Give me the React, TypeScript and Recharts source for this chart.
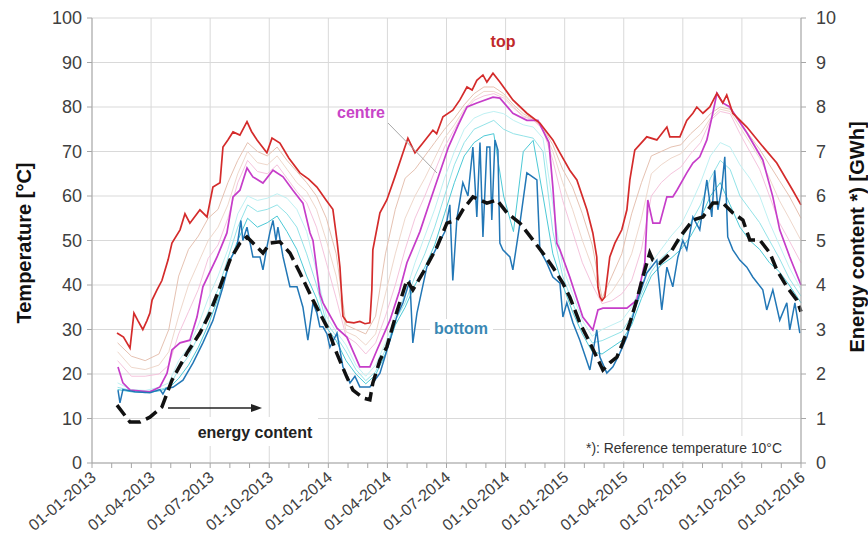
import React from "react";
import { LineChart, Line, XAxis, YAxis, CartesianGrid } from "recharts";

const FONT = "'Liberation Sans', Arial, sans-serif";

// x unit: months since 01-01-2013
const quarterTicks = [0, 3, 6, 9, 12, 15, 18, 21, 24, 27, 30, 33, 36];
const quarterLabels = [
  "01-01-2013", "01-04-2013", "01-07-2013", "01-10-2013",
  "01-01-2014", "01-04-2014", "01-07-2014", "01-10-2014",
  "01-01-2015", "01-04-2015", "01-07-2015", "01-10-2015",
  "01-01-2016",
];
const monthTicks = Array.from({ length: 37 }, (_, i) => i);
const tempTicks = [0, 10, 20, 30, 40, 50, 60, 70, 80, 90, 100];
const energyTicks = [0, 1, 2, 3, 4, 5, 6, 7, 8, 9, 10];

// [month, °C]
const topT: [number, number][] = [
  [1.27, 29.2], [1.6, 28.3], [1.93, 25.8], [2.13, 33.7], [2.33, 32], [2.58, 30], [2.79, 32],
  [2.94, 33.7], [3.05, 36.6], [3.3, 38.9], [3.55, 41], [3.86, 45.6], [4.06, 49.4], [4.47, 52.4],
  [4.72, 56], [4.97, 53.9], [5.33, 56], [5.48, 56.9], [5.84, 55.3], [6.14, 62], [6.5, 63],
  [6.65, 71], [6.9, 72.6], [7.16, 74.4], [7.51, 73.7], [7.87, 76.7], [8.1, 74.5], [8.38, 72.6],
  [8.88, 69.7], [9.14, 73], [9.54, 71.9], [10.0, 68.5], [10.56, 65.2], [11.0, 63.8], [11.42, 62],
  [11.9, 59], [12.23, 57], [12.44, 50], [12.59, 44], [12.74, 33], [12.94, 31.7], [13.3, 31.5],
  [13.6, 31.8], [13.86, 31.3], [14.11, 31.5], [14.21, 39], [14.26, 47.9], [14.62, 56.2],
  [14.97, 59.1], [15.38, 64.3], [15.79, 69.7], [16.04, 73], [16.4, 69.7], [16.8, 71.9],
  [17.31, 74.8], [17.5, 74], [17.82, 77.8], [18.32, 79.3], [18.68, 81.6], [19.04, 84.5],
  [19.3, 83.8], [19.54, 86], [19.85, 87.2], [20.05, 85.6], [20.36, 87.6], [20.71, 85.6],
  [21.37, 81.6], [22.08, 78.6], [22.74, 76.4], [23.4, 72.6], [23.76, 69.7], [24.26, 65.8],
  [24.62, 63.6], [25.13, 56.9], [25.43, 51.7], [25.63, 46.3], [25.69, 39.5], [25.79, 37.3],
  [25.9, 36.5], [26.04, 37.3], [26.29, 46.3], [26.55, 49.4], [26.9, 52.4], [27.16, 56.9],
  [27.31, 63.6], [27.56, 70.3], [28.17, 73.3], [28.68, 72.6], [29.19, 75.5], [29.34, 73.3],
  [29.85, 73.3], [30.2, 77], [30.51, 78.6], [30.71, 80], [31.02, 78.6], [31.37, 80],
  [31.73, 83.1], [32.03, 80.9], [32.23, 82.7], [32.54, 78.6], [33.25, 75.5], [33.91, 71.9],
  [34.77, 67.4], [35.58, 61.3], [36, 58],
];

const centreT: [number, number][] = [
  [1.32, 21.6], [1.57, 18], [1.93, 16.4], [2.94, 16], [3.45, 17.1], [3.81, 20.2], [4.06, 25.4],
  [4.47, 27], [4.97, 27.6], [5.33, 32.8], [5.63, 39.6], [6.35, 46.3], [6.85, 51.7], [7.16, 59.8],
  [7.51, 61.3], [7.87, 66.3], [8.17, 64.3], [8.68, 62.9], [9.19, 65.8], [9.7, 64.3], [10.2, 61.3],
  [10.71, 58.4], [11.07, 51.7], [11.22, 50], [11.57, 38], [11.73, 36], [12.44, 30.3],
  [12.94, 28.3], [13.6, 21.6], [14.11, 21.6], [14.47, 25.4], [15.13, 32.1], [15.6, 38.5],
  [15.99, 45], [16.65, 52], [17.1, 58], [17.6, 64.5], [18.1, 71], [18.6, 76], [19.04, 80],
  [19.54, 80.9], [20.36, 82.2], [20.71, 82], [21.37, 78.6], [22.08, 77], [22.64, 77], [23.2, 72],
  [23.4, 62], [23.6, 49.4], [23.76, 47.9], [24.26, 41.8], [24.92, 32.8], [25.43, 29.9],
  [25.69, 34.4], [25.94, 34.8], [27.16, 34.8], [27.66, 36.6], [28.07, 45], [28.22, 59.1],
  [28.48, 53.9], [28.83, 53.9], [29.19, 59.8], [29.49, 59.8], [29.7, 61.3], [30.2, 65.2],
  [30.51, 67.4], [30.86, 68.8], [31.22, 72.6], [31.52, 78.6], [31.73, 83.1], [32.03, 80.9],
  [32.38, 80], [33.25, 74.2], [34.06, 68.1], [34.57, 59.8], [34.92, 52.4], [35.43, 46.3], [36, 40],
];

const bottomT: [number, number][] = [
  [1.32, 16.4], [1.42, 13.5], [1.57, 16.5], [2.18, 16], [2.94, 15.8], [3.45, 16.5], [3.6, 15.5],
  [3.76, 16.8], [4.11, 17], [4.62, 18.6], [5.13, 22.5], [5.63, 27], [6.14, 32], [6.65, 39.6],
  [7.0, 45.6], [7.36, 48.5], [7.56, 54.5], [7.66, 50], [7.87, 53], [8.17, 46.3], [8.53, 46.3],
  [8.68, 43.4], [8.88, 48.5], [9.04, 52], [9.19, 54.5], [9.34, 50], [9.44, 53], [9.7, 46.3],
  [10.05, 39.6], [10.41, 39.6], [10.71, 35], [10.96, 27.6], [11.22, 36], [11.42, 33.7],
  [11.57, 30.6], [11.73, 30.6], [11.93, 29], [12.08, 26], [12.44, 29.2], [12.74, 21.6],
  [13.1, 18], [13.35, 19.5], [13.6, 17.1], [14.11, 17.1], [14.62, 20.2], [15.13, 27.6],
  [15.48, 33], [15.79, 36], [16.14, 41.1], [16.29, 27], [16.5, 33.7], [17.0, 44], [17.51, 48.5],
  [17.92, 52], [18.17, 58], [18.32, 41], [18.53, 55], [18.83, 63], [19.09, 60], [19.34, 71],
  [19.54, 55.3], [19.7, 72], [19.85, 50.8], [20.05, 71], [20.2, 71], [20.3, 54.6], [20.46, 72.6],
  [20.61, 70.3], [20.71, 49.4], [20.86, 47.9], [21.22, 46.3], [21.37, 43.4], [21.73, 53.9],
  [22.08, 65.2], [22.59, 63.6], [22.74, 47.9], [23.1, 44.9], [23.4, 41.8], [23.76, 40.4],
  [23.91, 32.8], [24.11, 36], [24.42, 31.5], [24.77, 27.6], [25.28, 20.9], [25.63, 29.9],
  [25.79, 23.8], [26.14, 20.2], [26.45, 21.6], [26.8, 24.7], [27.16, 28.3], [27.66, 36],
  [28.17, 42.7], [28.68, 45.6], [28.93, 34.4], [29.19, 44], [29.49, 39.6], [29.75, 46.3],
  [30.0, 50], [30.2, 47.9], [30.51, 55.3], [30.86, 52.4], [31.22, 63.6], [31.47, 55.3],
  [31.62, 65.8], [31.78, 56.9], [31.98, 62], [32.13, 68.8], [32.28, 50.8], [32.54, 47.9],
  [32.89, 45.6], [33.25, 44], [33.55, 41.8], [34.06, 38.9], [34.26, 34.4], [34.57, 38.9],
  [34.92, 32.1], [35.28, 36], [35.43, 29.9], [35.69, 36], [35.94, 29.2],
];

// [month, GWh]
const energyGWh: [number, number][] = [
  [1.27, 1.3], [1.93, 0.92], [2.44, 0.92], [2.94, 1.03], [3.55, 1.26], [4.06, 1.86], [4.82, 2.47],
  [5.48, 2.92], [5.99, 3.37], [6.5, 3.96], [7.0, 4.56], [7.51, 4.94], [7.87, 5.08], [8.38, 4.85],
  [8.68, 4.72], [9.04, 4.94], [9.54, 4.97], [10.05, 4.72], [10.56, 4.27], [11.22, 3.66],
  [11.93, 3.06], [12.44, 2.45], [12.94, 1.93], [13.25, 1.64], [13.76, 1.46], [14.11, 1.42],
  [14.26, 1.8], [14.62, 2.31], [14.97, 2.61], [15.48, 3.4], [15.99, 4.11], [16.29, 3.89],
  [16.8, 4.27], [17.51, 4.85], [18.02, 5.39], [18.53, 5.46], [18.83, 5.69], [19.34, 5.98],
  [19.7, 5.91], [20.05, 5.84], [20.56, 5.91], [21.07, 5.62], [21.73, 5.39], [22.39, 5.01],
  [22.89, 4.72], [23.4, 4.4], [23.91, 4.04], [24.26, 3.73], [24.77, 3.15], [25.28, 2.7],
  [25.63, 2.38], [25.94, 2.09], [26.29, 2.25], [26.65, 2.38], [26.95, 2.7], [27.31, 3.15],
  [27.66, 3.66], [27.97, 4.18], [28.32, 4.72], [28.48, 4.56], [28.83, 4.49], [29.34, 4.7],
  [29.85, 5.08], [30.51, 5.46], [31.02, 5.53], [31.52, 5.84], [32.03, 5.84], [32.54, 5.62],
  [33.05, 5.46], [33.4, 5.01], [33.91, 5.01], [34.42, 4.72], [34.77, 4.34], [35.28, 3.96],
  [35.79, 3.66], [36, 3.4],
];

// intermediate sensor layers, read on a coarse month grid
const layerMonths = [
  1.3, 2, 2.7, 3.4, 3.9, 4.4, 4.9, 5.4, 5.9, 6.4, 6.9, 7.4, 7.9, 8.4, 8.9, 9.4, 9.9, 10.4, 10.9,
  11.4, 11.9, 12.4, 12.9, 13.4, 13.9, 14.4, 14.9, 15.4, 15.9, 16.4, 16.9, 17.4, 17.9, 18.4, 18.9,
  19.4, 19.9, 20.4, 20.9, 21.4, 21.9, 22.4, 22.9, 23.4, 23.9, 24.4, 24.9, 25.4, 25.9, 26.4, 26.9,
  27.4, 27.9, 28.4, 28.9, 29.4, 29.9, 30.4, 30.9, 31.4, 31.9, 32.4, 32.9, 33.4, 33.9, 34.4, 34.9,
  35.4, 36,
];
const upper1 = [
  27, 24, 23, 24.5, 30, 42, 48, 51, 55, 57, 63, 68, 72, 70, 69, 71, 68, 65.5, 63, 60,
  55, 47, 31, 30, 29, 33, 47, 57, 64, 66, 69, 72, 75, 77.5, 80.5, 83, 84.5, 84.5, 83, 80.5,
  78.5, 77.3, 75.3, 71.5, 66, 62, 56, 49, 37, 42, 47, 56, 63, 69, 70, 71, 71.5, 74, 76, 78.5,
  80, 79.5, 76.5, 73.5, 70.5, 67, 63.5, 60, 55,
];
const upper2 = [
  25, 21.5, 21, 22, 25, 33, 40, 45, 50, 53, 58, 65, 70, 67.5, 67, 69, 66, 63, 61, 57,
  50, 42, 29.5, 28.5, 26.5, 29, 38, 47, 55, 60, 64, 68.5, 73, 76, 79.5, 82, 83.5, 83.5, 82.5, 80,
  78, 77.2, 75.1, 70, 63, 57, 50, 44, 36.5, 38.5, 42, 47, 55, 65, 67, 68.5, 69.5, 72, 74, 77.5,
  79.5, 79, 75.5, 72, 68.5, 64, 59, 55, 50,
];
const upper3 = [
  23, 19.5, 19.5, 20, 22, 29, 34, 39, 46, 49, 55, 63, 68, 65.5, 65, 67, 64, 61, 58.5, 53,
  45, 37, 28.5, 27, 24.5, 27, 33, 40, 48, 55, 60, 65.5, 71, 75, 79, 81.5, 82.5, 83, 82, 79.8,
  77.8, 77.1, 75, 68, 59, 52, 45, 40, 35.8, 36.5, 38, 41, 48, 60, 63, 65, 66.5, 69.5, 72, 77,
  79, 78.5, 74, 70, 66, 60, 54, 50, 45,
];
const lower1 = [
  18, 16.5, 16.3, 17, 18, 23, 26, 31, 37, 42, 48, 56, 60, 59, 59.5, 60.5, 59.5, 57, 52, 43,
  33, 29.5, 26.5, 22, 19.5, 22, 27, 33, 38, 45, 51, 57, 64, 70, 75, 77.5, 78.5, 79, 78.5, 77,
  76, 75.5, 73, 58, 44, 38, 32, 28.5, 30, 31, 32, 35, 40, 45, 48, 51, 53.5, 58, 63, 69,
  72, 71, 67, 64, 60, 54, 49, 44, 39,
];
const lower2 = [
  17, 16.3, 16, 16.5, 17, 21, 24, 28.5, 34, 39, 46, 53, 58, 56.5, 57, 58, 56, 53, 47, 40,
  31.5, 28.5, 25, 21, 18.5, 20.5, 25.5, 32, 36, 42, 47, 53, 60, 67, 72, 75, 76, 77, 75, 74,
  73.5, 73, 70, 52, 42, 36, 30.5, 27, 27.5, 28.5, 29.5, 33, 38, 43, 46, 48, 50, 54, 58, 64,
  68, 66, 60, 57, 54, 50, 46, 41.5, 37.5,
];
const lower3 = [
  16.5, 16, 15.8, 16.2, 16.8, 19, 22, 26, 31, 37, 44, 50, 55, 53, 54, 55.5, 52, 48, 42, 37,
  30.5, 27.5, 23, 20, 17.8, 19.8, 24.5, 31, 35, 40, 44, 49, 56, 63, 69, 72, 73.5, 74, 60, 52,
  70, 72.5, 60, 47, 40, 34, 29, 25, 24.5, 26, 27.5, 31, 37, 42, 44.5, 46, 48, 51, 55, 60,
  63, 58, 53, 50, 48, 45, 43, 40, 36,
];

const pts = (pairs: [number, number][]) => pairs.map(([m, v]) => ({ m, v }));
const onLayerGrid = (vals: number[]) => layerMonths.map((m, i) => ({ m, v: vals[i] }));

const layers = [
  { key: "u1", data: onLayerGrid(upper1), color: "#e6c2b2" },
  { key: "u2", data: onLayerGrid(upper2), color: "#efd8cc" },
  { key: "u3", data: onLayerGrid(upper3), color: "#f5c4dd" },
  { key: "l1", data: onLayerGrid(lower1), color: "#bff1f3" },
  { key: "l2", data: onLayerGrid(lower2), color: "#93e3e8" },
  { key: "l3", data: onLayerGrid(lower3), color: "#4cc9d6" },
];

function DateTick(props: any) {
  const { x, y, payload } = props;
  const v = payload.value;
  if (v % 3 !== 0) return <g />;
  return (
    <text
      transform={`translate(${x + 5},${y + 9}) rotate(-40)`}
      textAnchor="end"
      fontSize={16}
      fill="#404040"
      fontFamily={FONT}
    >
      {quarterLabels[v / 3]}
    </text>
  );
}

const axisTick = { fontSize: 18, fill: "#404040", fontFamily: FONT };

export default function App() {
  return (
    <div style={{ position: "absolute", left: 0, top: 0, width: 868, height: 550, background: "#fff" }}>
      <LineChart width={868} height={550} margin={{ top: 18, right: 22, bottom: 17, left: 22 }}>
        <CartesianGrid stroke="#d9d9d9" verticalValues={quarterTicks} horizontalValues={tempTicks} />
        <XAxis
          dataKey="m"
          type="number"
          domain={[0, 36]}
          ticks={monthTicks}
          interval={0}
          height={70}
          tick={<DateTick />}
          tickSize={5}
          tickMargin={2}
          stroke="#a6a6a6"
        />
        <YAxis
          domain={[0, 100]}
          ticks={tempTicks}
          width={70}
          tick={axisTick}
          tickSize={5}
          tickMargin={5}
          stroke="#a6a6a6"
        />
        <YAxis
          yAxisId="right"
          orientation="right"
          domain={[0, 10]}
          ticks={energyTicks}
          width={45}
          tick={axisTick}
          tickSize={5}
          tickMargin={10}
          stroke="#a6a6a6"
        />
        {layers.map((l) => (
          <Line
            key={l.key}
            data={l.data}
            dataKey="v"
            stroke={l.color}
            strokeWidth={1}
            dot={false}
            isAnimationActive={false}
          />
        ))}
        <Line data={pts(centreT)} dataKey="v" stroke="#c63dc9" strokeWidth={1.7} dot={false} isAnimationActive={false} />
        <Line data={pts(topT)} dataKey="v" stroke="#d42b2b" strokeWidth={1.7} dot={false} isAnimationActive={false} />
        <Line data={pts(bottomT)} dataKey="v" stroke="#2277b6" strokeWidth={1.5} dot={false} isAnimationActive={false} />
        <Line
          data={pts(energyGWh)}
          dataKey="v"
          yAxisId="right"
          stroke="#111"
          strokeWidth={3.5}
          strokeDasharray="13 6"
          dot={false}
          isAnimationActive={false}
        />
      </LineChart>

      <svg
        width={868}
        height={550}
        style={{ position: "absolute", left: 0, top: 0, pointerEvents: "none" }}
        fontFamily={FONT}
      >
        <rect x={190} y={417} width={128} height={29} fill="#fff" />
        <rect x={430} y={319} width={63} height={20} fill="#fff" />
        <rect x={578} y={436} width={212} height={25} fill="#fff" />

        <text x={503} y={47} textAnchor="middle" fontSize={16} fontWeight="bold" fill="#c0282a">top</text>
        <text x={361} y={118} textAnchor="middle" fontSize={16} fontWeight="bold" fill="#c845c8">centre</text>
        <line x1={388} y1={123} x2={437} y2={173} stroke="#a8a8a8" strokeWidth={1} />
        <text x={461} y={334} textAnchor="middle" fontSize={16} fontWeight="bold" fill="#3a88b4">bottom</text>

        <line x1={168} y1={408} x2={254} y2={408} stroke="#222" strokeWidth={1.5} />
        <polygon points="262,408 251,404 251,412" fill="#222" />
        <text x={255} y={438} textAnchor="middle" fontSize={16} fontWeight="bold" fill="#222">energy content</text>

        <text x={782} y={453} textAnchor="end" fontSize={14} fill="#333" textLength={196} lengthAdjust="spacingAndGlyphs">
          *): Reference temperature 10°C
        </text>

        <text
          transform="translate(31,243) rotate(-90)"
          textAnchor="middle"
          fontSize={20}
          fontWeight="bold"
          fill="#111"
        >
          Temperature [°C]
        </text>
        <text
          transform="translate(864,237) rotate(-90)"
          textAnchor="middle"
          fontSize={20}
          fontWeight="bold"
          fill="#111"
        >
          Energy content *) [GWh]
        </text>
      </svg>
    </div>
  );
}
